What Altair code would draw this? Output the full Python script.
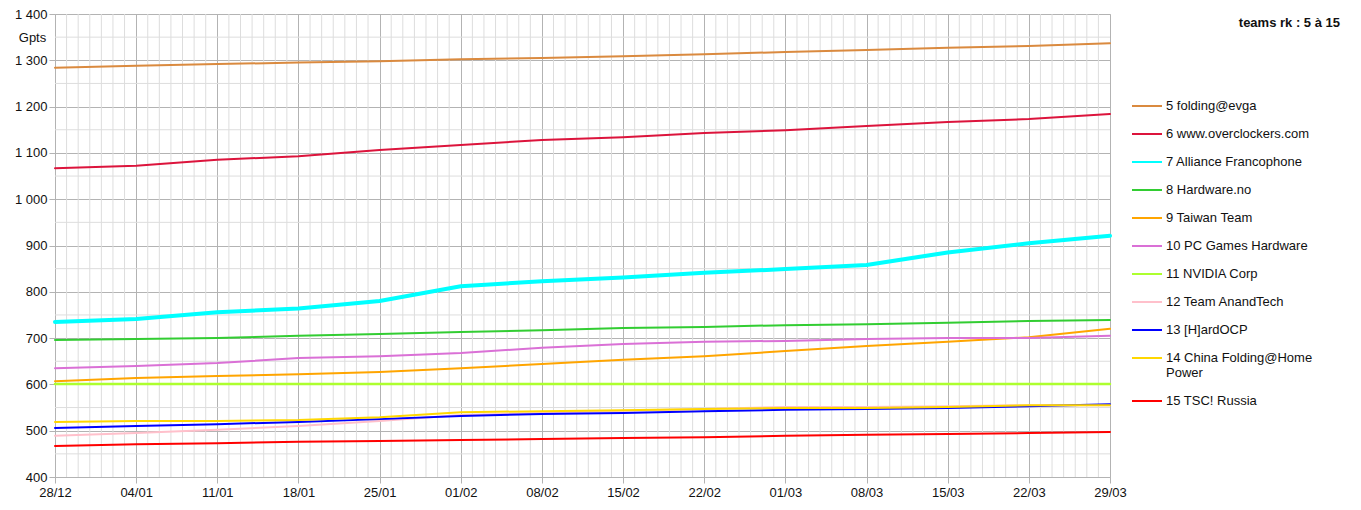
import altair as alt
import pandas as pd

# Weekly sample dates (UTC, 28/12/2020 -> 29/03/2021)
dates = ["2020-12-28", "2021-01-04", "2021-01-11", "2021-01-18", "2021-01-25",
         "2021-02-01", "2021-02-08", "2021-02-15", "2021-02-22", "2021-03-01",
         "2021-03-08", "2021-03-15", "2021-03-22", "2021-03-29"]

names = ["5 folding@evga", "6 www.overclockers.com", "7 Alliance Francophone",
         "8 Hardware.no", "9 Taiwan Team", "10 PC Games Hardware", "11 NVIDIA Corp",
         "12 Team AnandTech", "13 [H]ardOCP", "14 China Folding@Home Power",
         "15 TSC! Russia"]

colors = ["#DA8A3F", "#DC143C", "#00FFFF", "#32CD32", "#FFA500", "#DA70D6",
          "#ADFF2F", "#FFC0CB", "#0000FF", "#FFD700", "#FF0000"]

widths = [2, 2, 4, 2, 2, 2, 2.5, 2, 2, 2, 2]

evga = [1284, 1288, 1292, 1295, 1298, 1302, 1305, 1309, 1313, 1318, 1322, 1327, 1331, 1337]
overclockers = [1067, 1072, 1085, 1093, 1106, 1117, 1128, 1134, 1143, 1149, 1158, 1167, 1173, 1184]
alliance = [735, 741, 756, 764, 780, 812, 823, 831, 841, 849, 858, 885, 905, 921]
hardware_no = [696, 698, 700, 705, 709, 713, 717, 722, 724, 728, 730, 733, 737, 739]
taiwan = [607, 614, 618, 622, 627, 635, 644, 653, 661, 672, 683, 692, 702, 720]
pcgames = [635, 640, 646, 657, 661, 668, 679, 687, 692, 694, 698, 700, 700, 705]
nvidia = [601, 601, 601, 601, 601, 601, 601, 601, 601, 601, 601, 601, 601, 601]
anandtech = [489, 495, 502, 510, 521, 534, 538, 543, 547, 551, 551, 553, 555, 555]
hardocp = [506, 510, 514, 519, 525, 532, 536, 538, 542, 545, 547, 549, 553, 557]
china = [519, 521, 521, 523, 529, 540, 542, 544, 547, 549, 549, 551, 555, 555]
tsc = [467, 471, 473, 476, 478, 480, 482, 484, 486, 489, 491, 493, 495, 497]

series = [evga, overclockers, alliance, hardware_no, taiwan, pcgames, nvidia,
          anandtech, hardocp, china, tsc]

rows = []
for name, w, vals in zip(names, widths, series):
    for d, v in zip(dates, vals):
        rows.append({"date": d, "team": name, "value": v, "w": w})
df = pd.DataFrame(rows)

# Grid helpers
all_days = pd.date_range("2020-12-28", "2021-03-29", freq="D")
week_days = set(pd.to_datetime(dates))
minor_days = pd.DataFrame({"date": [d.strftime("%Y-%m-%d") for d in all_days if d not in week_days]})
minor_vals = pd.DataFrame({"v": [v for v in range(450, 1400, 100)]})

tick_ms = [int(pd.Timestamp(d, tz="UTC").timestamp() * 1000) for d in dates]

FONT = "Liberation Sans"
xscale = alt.Scale(type="utc", domain=[tick_ms[0], tick_ms[-1]], nice=False)
yscale = alt.Scale(domain=[400, 1400], nice=False)

xaxis = alt.Axis(values=tick_ms, format="%d/%m", title=None,
                 grid=True, gridColor="#b3b3b3", gridWidth=1,
                 domainColor="#b3b3b3", tickColor="#b3b3b3", tickSize=6,
                 labelFont=FONT, labelFontSize=13, labelColor="#111111",
                 labelPadding=3, labelFlush=False)
yaxis = alt.Axis(values=list(range(400, 1401, 100)), title="Gpts",
                 titleAngle=0, titleX=-23, titleY=23, titleAlign="center",
                 titleBaseline="middle", titleFont=FONT, titleFontSize=13,
                 titleFontWeight="normal", titleColor="#111111",
                 labelExpr="replace(format(datum.value, ','), ',', ' ')",
                 grid=True, gridColor="#b3b3b3", gridWidth=1,
                 domainColor="#b3b3b3", tickColor="#b3b3b3", tickSize=6,
                 labelFont=FONT, labelFontSize=13, labelColor="#111111",
                 labelPadding=2)

minor_x = alt.Chart(minor_days).mark_rule(color="#dddddd", strokeWidth=1).encode(
    x=alt.X("date:T", scale=xscale, axis=xaxis)
)
minor_y = alt.Chart(minor_vals).mark_rule(color="#dddddd", strokeWidth=1).encode(
    y=alt.Y("v:Q", scale=yscale, axis=yaxis)
)

lines = alt.Chart(df).mark_line(strokeCap="round", strokeJoin="round").encode(
    x=alt.X("date:T", scale=xscale, axis=xaxis),
    y=alt.Y("value:Q", scale=yscale, axis=yaxis),
    color=alt.Color("team:N", sort=names,
                    scale=alt.Scale(domain=names, range=colors),
                    legend=alt.Legend(title=None, orient="none", legendX=1076, legendY=76,
                                      symbolType="stroke", symbolSize=900,
                                      symbolStrokeWidth=2, labelFont=FONT,
                                      labelFontSize=13, labelColor="#111111",
                                      labelOffset=3, rowPadding=5, padding=0,
                                      labelLimit=300,
                                      labelExpr="datum.label == '14 China Folding@Home Power' ? ['14 China Folding@Home', 'Power'] : datum.label")),
    strokeWidth=alt.StrokeWidth("w:Q", scale=None, legend=None),
    detail="team:N",
    order=alt.Order("date:T")
)

chart = alt.layer(minor_x, minor_y, lines).properties(
    width=1055, height=463,
    padding={"left": 47, "top": 6, "right": 243, "bottom": 25},
    autosize=alt.AutoSizeParams(type="none"),
    title=alt.TitleParams("teams rk : 5 à 15", anchor="end", orient="top", frame="group",
                          dx=230, dy=28, font=FONT, fontSize=13, fontWeight="bold",
                          color="#111111", baseline="middle", offset=0)
).configure_view(stroke="#b3b3b3", strokeWidth=1).configure(background="white")

chart.save("out.html", embed_options={"renderer": "svg", "actions": False})
